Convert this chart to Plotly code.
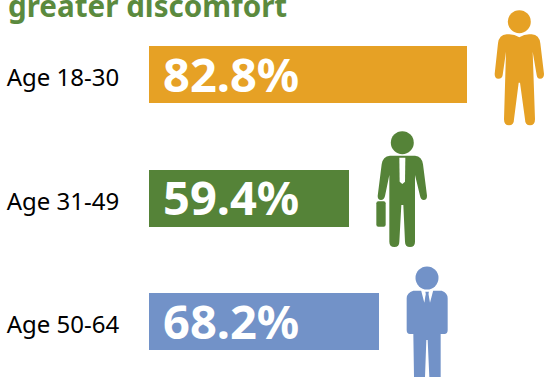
import re
import plotly.graph_objects as go

categories = ["Age 18-30", "Age 31-49", "Age 50-64"]
values = [82.8, 59.4, 68.2]
bar_lengths = [94.4, 59.4, 68.2]  # drawn lengths
colors = ["#E6A125", "#558338", "#7292C8"]
title_text = "greater discomfort"
FONT = "Noto Sans"
W, H = 544, 377


def P(s, ox, oy):
    """Icon outlines are traced on 3x crops: convert to page pixels."""
    nums = iter(range(10**6))
    def conv(m):
        i = next(nums)
        v = float(m.group())
        return f"{(ox if i % 2 == 0 else oy) + v / 3:.2f}"
    return re.sub(r"\d+(\.\d+)?", conv, s)


fig = go.Figure()
fig.add_trace(go.Bar(
    y=categories, x=bar_lengths, orientation="h",
    marker=dict(color=colors, line_width=0), width=0.4615,
    hoverinfo="skip", xaxis="x", yaxis="y",
))
fig.add_trace(go.Scatter(x=[0], y=[0], xaxis="x2", yaxis="y2", mode="none", hoverinfo="skip"))

annotations = [
    dict(x=0, y=c, xref="x", yref="y", text=f"<b>{v}%</b>", showarrow=False,
         xanchor="left", xshift=12, yshift=1,
         font=dict(family=FONT, size=47, color="white"))
    for c, v in zip(categories, values)
]
annotations.append(dict(
    x=6, y=5, xref="x2", yref="y2", text=f"<b>{title_text}</b>", showarrow=False,
    xanchor="left", yanchor="middle", font=dict(family=FONT, size=29.6, color="#5B8A3E"),
))

shapes = []


def body(path, color):
    shapes.append(dict(type="path", xref="x2", yref="y2", path=path,
                       fillcolor=color, line_width=0, layer="above"))


def head(cx, cy, r, color):
    shapes.append(dict(type="circle", xref="x2", yref="y2", x0=cx - r, x1=cx + r,
                       y0=cy - r, y1=cy + r, fillcolor=color, line_width=0, layer="above"))


# orange figure
head(519.3, 21.7, 11.5, colors[0])
body(P("M440 103 Q460 100 478 112 Q496 100 515 103 Q538 105 541 130 L552 222 Q552 236 540 236 "
       "Q531 236 530 225 L518 155 L525 358 Q525 376 510 376 Q495 376 495 358 L480 248 L476 248 "
       "L462 358 Q462 376 447 376 Q432 376 432 358 L438 155 L428 225 Q427 236 415 236 "
       "Q404 236 404 222 L414 130 Q417 105 440 103 Z", 360, 0), colors[0])

# green figure
head(402.3, 142.7, 11.5, colors[1])
body(P("M90 92 L165 92 Q186 94 189 118 L201 212 Q201 225 191 225 Q183 225 180 212 L165 150 "
       "L165 350 Q165 366 150 366 Q135 366 135 350 L130 240 L124 240 L118 350 Q118 366 103 366 "
       "Q88 366 88 350 L88 150 L75 213 Q72 225 63 225 Q53 225 53 213 L65 118 Q68 94 90 92 Z", 360, 125), colors[1])
body(P("M118 98 L136 98 L135 170 L127 177 L119 170 Z", 360, 125), "white")
body(P("M55 229 L71 229 Q77 229 77 235 L77 299 Q77 305 71 305 L55 305 Q49 305 49 299 L49 235 Q49 229 55 229 Z",
       360, 125), colors[1])

# blue figure
head(427, 278, 11.5, colors[2])
body(P("M70 92 L155 92 Q173 98 173 115 L173 210 Q173 222 163 222 L152 222 L152 351 L118 351 L113 240 "
       "L109 240 L105 351 L72 351 L70 222 L60 222 Q50 222 50 210 L50 115 Q50 98 70 92 Z", 390, 260), colors[2])
body(P("M93 90 L103 128 L108 100 L115 100 L120 128 L130 90 Z", 390, 260), "white")
body(P("M106 95 L117 95 L114 104 L117 124 L111 134 L105 124 L108 104 Z", 390, 260), colors[2])

fig.update_layout(
    width=W, height=H, showlegend=False, paper_bgcolor="white", plot_bgcolor="rgba(0,0,0,0)",
    margin=dict(l=0, r=0, t=0, b=0), shapes=shapes, annotations=annotations, bargap=0,
    xaxis=dict(domain=[149 / W, 1], range=[0, (W - 149) / 3.37], visible=False, fixedrange=True),
    yaxis=dict(domain=[0, 1], range=[2.448, -0.605], type="category", showline=False, showgrid=False,
               zeroline=False, ticks="outside", ticklen=24, tickcolor="rgba(0,0,0,0)",
               ticklabelshift=-3,
               tickfont=dict(family=FONT, size=24, color="black"), fixedrange=True),
    xaxis2=dict(domain=[0, 1], range=[0, W], visible=False, fixedrange=True, anchor="y2"),
    yaxis2=dict(domain=[0, 1], range=[H, 0], visible=False, fixedrange=True, anchor="x2"),
)
fig.write_html("out.html", config=dict(displayModeBar=False),
               post_script="document.body.style.margin='0';document.documentElement.style.overflow='hidden';")
